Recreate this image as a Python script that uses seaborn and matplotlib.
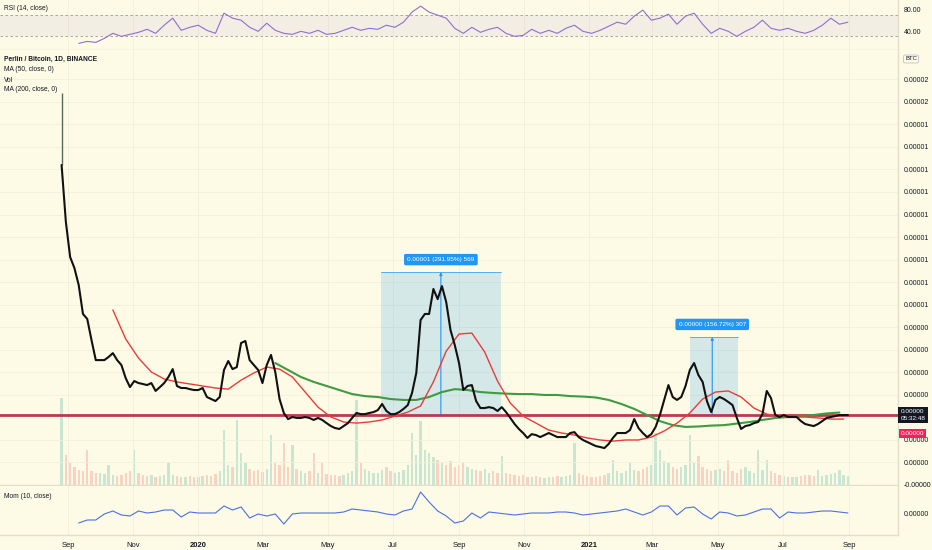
import numpy as np
import pandas as pd
import matplotlib
matplotlib.use('Agg')
import matplotlib.pyplot as plt
import matplotlib.dates as mdates
from matplotlib.patches import Rectangle
import seaborn as sns

# price in units of 1e-6 BTC, one close every 4 days from 2019-08-26
close_start = '2019-08-26'
close = [13.2, 10.67, 9.11, 8.62, 7.87, 6.58, 6.36, 5.42, 4.53, 4.53,
         4.53, 4.67, 4.84, 4.53, 4.31, 3.73, 3.33, 3.6, 3.51, 3.47,
         3.42, 3.51, 3.16, 3.33, 3.51, 3.78, 4.13, 3.38, 3.29, 3.29,
         3.24, 3.2, 3.2, 3.29, 2.89, 2.8, 2.71, 2.89, 4.09, 4.49,
         4.13, 4.22, 5.29, 5.38, 4.53, 4.31, 4.09, 3.51, 4.31, 4.76,
         4.0, 2.8, 2.18, 1.91, 2.0, 1.96, 1.96, 2.0, 1.96, 1.87,
         1.96, 1.87, 1.73, 1.6, 1.51, 1.47, 1.6, 1.73, 1.96, 2.18,
         2.13, 2.13, 2.18, 2.22, 2.31, 2.58, 2.27, 2.13, 2.13, 2.22,
         2.36, 2.53, 3.07, 3.96, 6.31, 6.58, 6.58, 7.69, 7.24, 7.82,
         7.11, 5.87, 5.2, 4.4, 3.2, 3.38, 3.42, 2.71, 2.4, 2.4,
         2.44, 2.4, 2.27, 2.44, 2.22, 1.96, 1.69, 1.47, 1.29, 1.07,
         1.24, 1.2, 1.11, 1.2, 1.29, 1.2, 1.11, 1.11, 1.11, 1.29,
         1.33, 1.11, 0.98, 0.89, 0.8, 0.71, 0.67, 0.62, 0.8, 1.07,
         1.29, 1.29, 1.29, 1.42, 1.91, 1.51, 1.29, 1.11, 1.24, 1.56,
         2.09, 2.76, 3.42, 2.89, 2.76, 2.89, 3.38, 4.09, 4.4, 3.87,
         3.56, 2.71, 2.22, 2.76, 2.89, 2.8, 2.67, 2.53, 1.96, 1.47,
         1.6, 1.64, 1.73, 1.78, 2.13, 3.16, 2.84, 2.09, 2.0, 2.09,
         2.0, 2.0, 2.0, 1.82, 1.69, 1.64, 1.6, 1.69, 1.82, 1.96,
         2.0, 2.04, 2.09, 2.09, 2.09]
first_high = 16.4

# volume, same dates as close
vol = [87, 30, 22, 18, 15, 14, 35, 14, 12, 12,
       11, 20, 10, 9, 10, 12, 14, 35, 12, 10,
       9, 10, 8, 9, 10, 22, 10, 9, 8, 8,
       9, 8, 8, 9, 10, 9, 11, 14, 55, 20,
       18, 65, 32, 22, 16, 14, 15, 13, 16, 50,
       22, 20, 42, 18, 40, 16, 14, 12, 14, 32,
       12, 22, 11, 10, 10, 9, 10, 12, 14, 85,
       22, 16, 14, 12, 12, 15, 18, 14, 12, 13,
       15, 20, 52, 30, 64, 35, 32, 28, 25, 22,
       20, 24, 18, 20, 22, 18, 16, 15, 14, 16,
       12, 14, 12, 29, 12, 11, 10, 9, 10, 8,
       8, 9, 8, 7, 8, 8, 9, 8, 9, 10,
       42, 12, 10, 9, 8, 8, 9, 10, 12, 25,
       14, 12, 14, 22, 15, 14, 16, 18, 20, 52,
       35, 24, 22, 18, 16, 18, 20, 50, 22, 29,
       18, 16, 14, 15, 16, 14, 25, 14, 12, 16,
       18, 14, 12, 35, 15, 25, 14, 12, 10, 9,
       8, 8, 8, 9, 10, 10, 9, 15, 9, 10,
       11, 12, 15, 10, 9]

# moving averages, one value every 12 days
ma50_start = '2019-10-13'
ma50 = [6.76, 5.47, 4.62, 4.0, 3.69, 3.56, 3.47, 3.38, 3.29, 3.24,
        3.64, 3.96, 4.22, 4.13, 3.78, 3.11, 2.44, 2.0, 1.78, 1.73,
        1.78, 1.87, 2.04, 2.22, 2.49, 3.56, 4.93, 5.69, 5.73, 4.89,
        3.6, 2.62, 2.04, 1.73, 1.42, 1.29, 1.2, 1.07, 0.98, 0.93,
        0.98, 0.98, 1.11, 1.38, 1.73, 2.18, 2.8, 3.11, 3.16, 2.89,
        2.4, 2.13, 2.04, 2.0, 2.0, 1.96, 1.91, 1.91]
ma200_start = '2020-03-13'
ma200 = [4.4, 4.09, 3.78, 3.56, 3.38, 3.2, 3.02, 2.93, 2.89, 2.8,
         2.76, 2.76, 2.89, 3.11, 3.24, 3.2, 3.11, 3.07, 3.04, 3.02,
         3.02, 2.98, 2.98, 2.93, 2.91, 2.87, 2.76, 2.58, 2.36, 2.09,
         1.82, 1.64, 1.56, 1.58, 1.62, 1.64, 1.71, 1.78, 1.87, 1.96,
         2.0, 2.04, 2.09, 2.16, 2.2]

# indicators, one value every 8 days
ind_start = '2019-09-11'
rsi = [16.7, 20.5, 18.6, 26.2, 35.7, 30, 33.8, 37.6, 43.3, 35.7,
       51, 64.3, 41.4, 47.1, 51, 41.4, 35.7, 73.8, 64.3, 60.5,
       47.1, 39.5, 54.8, 41.4, 35.7, 33.8, 39.5, 35.7, 41.4, 33.8,
       35.7, 41.4, 47.1, 41.4, 45.2, 43.3, 51, 47.1, 56.7, 75.7,
       87.1, 75.7, 70, 64.3, 45.2, 35.7, 47.1, 37.6, 43.3, 47.1,
       35.7, 30, 31.9, 43.3, 35.7, 41.4, 35.7, 45.2, 51, 39.5,
       35.7, 41.4, 49, 56.7, 52.9, 68.1, 79.5, 60.5, 64.3, 71.9,
       52.9, 68.1, 73.8, 52.9, 35.7, 45.2, 39.5, 30, 39.5, 47.1,
       60.5, 45.2, 41.4, 45.2, 39.5, 35.7, 41.4, 51, 64.3, 52.9,
       56.7]
mom = [-2.0, -1.4, -1.4, -0.2, 0.4, -0.4, -0.6, 0.4, 0, 0.2,
       0.6, 0.6, -0.8, 0.2, 0, 0, 0, 1.4, 0.6, 1.2,
       -1.0, -0.2, -0.6, -0.2, -2.2, -0.2, 0, 0, 0, 0,
       0, 0.2, 0.8, 0.6, 0.4, 0.2, -0.2, -0.4, 0.4, 0.8,
       4.2, 2.2, 0.4, -0.6, -2.0, -1.6, 0, -1.0, 0.2, 0,
       -0.2, -0.4, -0.2, 0, 0, 0, 0.2, 0.2, 0, -0.4,
       -0.2, 0, 0.2, 0.4, 0.8, 0.2, -0.4, 0.2, 1.4, 1.4,
       -0.4, 1.0, 1.2, -0.2, -1.2, 0.2, 0, -0.6, -0.4, 0.2,
       0.8, 0.8, -1.0, 0.2, 0, 0, 0.2, 0.4, 0.4, 0.2,
       0]

support = 2.07

# price range measurements
measure_start = ['2020-06-20', '2021-04-05']
measure_end = ['2020-10-10', '2021-05-20']
measure_mid = ['2020-08-15', '2021-04-26']
measure_low = [2.04, 2.09]
measure_high = [8.44, 5.56]
measure_text = ['0.00001 (291.95%) 569', '0.00000 (156.72%) 307']

month_ticks = pd.date_range('2019-09-01', '2021-09-01', freq='2MS')
month_labels = ['Sep', 'Nov', '2020', 'Mar', 'May', 'Jul', 'Sep', 'Nov', '2021', 'Mar', 'May', 'Jul', 'Sep']
# tick under the last-price box and the one under the BTC badge are left out
price_ticks = [-1, 0, 1] + list(range(3, 18))
price_labels = ['-0.00000'] + ['0.00000'] * 6 + ['0.00001'] * 9 + ['0.00002'] * 2

bg = '#fdfbe6'
grid_c = '#f3f0da'
sep_c = '#e2dec9'
text_c = '#131722'
blue = '#2196f3'

sns.set_style('white')
plt.rcParams['font.family'] = ['Liberation Sans Narrow', 'Liberation Sans', 'DejaVu Sans']

W, H = 932, 550
fig = plt.figure(figsize=(W / 100, H / 100), dpi=100, facecolor=bg)


def box(x0, y0, x1, y1):
    return [x0 / W, 1 - y1 / H, (x1 - x0) / W, (y1 - y0) / H]


ax_rsi = fig.add_axes(box(0, 0, 898, 49.5))
ax_vol = fig.add_axes(box(0, 50, 898, 485), sharex=ax_rsi)
ax = fig.add_axes(box(0, 50, 898, 485), sharex=ax_rsi)
ax_mom = fig.add_axes(box(0, 486, 898, 535), sharex=ax_rsi)

d_close = pd.date_range(close_start, periods=len(close), freq='4D')
d_ma50 = pd.date_range(ma50_start, periods=len(ma50), freq='12D')
d_ma200 = pd.date_range(ma200_start, periods=len(ma200), freq='12D')
d_ind = pd.date_range(ind_start, periods=len(rsi), freq='8D')

# volume (behind the price)
ax_vol.set_facecolor(bg)
up = np.r_[True, np.diff(close) >= 0]
vcol = np.where(up, '#26a69a', '#ef5350')
ax_vol.bar(d_close, vol, width=2.2, color=vcol, alpha=0.24, linewidth=0)
ax_vol.set_ylim(0, 435)
ax_vol.set_yticks([])
ax_vol.tick_params(labelbottom=False, length=0)
for s in ax_vol.spines.values():
    s.set_visible(False)

# main price panel
ax.patch.set_visible(False)
for s0, s1, lo, hi in zip(measure_start, measure_end, measure_low, measure_high):
    x0 = mdates.date2num(pd.Timestamp(s0))
    x1 = mdates.date2num(pd.Timestamp(s1))
    ax.add_patch(Rectangle((x0, lo), x1 - x0, hi - lo, facecolor=blue, alpha=0.18,
                           edgecolor='none', zorder=1))
    ax.plot([x0, x1], [hi, hi], color=blue, lw=0.7, alpha=0.7, zorder=1)
for mid, lo, hi, txt in zip(measure_mid, measure_low, measure_high, measure_text):
    xm = mdates.date2num(pd.Timestamp(mid))
    ax.annotate('', xy=(xm, hi), xytext=(xm, lo),
                arrowprops=dict(arrowstyle='-|>', color=blue, lw=0.8, mutation_scale=4,
                                shrinkA=0, shrinkB=0), zorder=2)
    ax.annotate(txt, xy=(xm, hi), xytext=(0, 9), textcoords='offset points',
                ha='center', va='center', fontsize=4.6, color='white', zorder=5,
                bbox=dict(boxstyle='round,pad=0.5,rounding_size=0.25', fc=blue, ec='none'))

ax.axhline(support, color='#b83a52', lw=2, zorder=3)
sns.lineplot(x=d_ma200, y=ma200, ax=ax, color='#3f9b3f', linewidth=1.5, zorder=3)
sns.lineplot(x=d_ma50, y=ma50, ax=ax, color='#ec3b3b', linewidth=1.0, zorder=3)
ax.vlines(d_close[0], close[0], first_high, color='#5c6b5c', lw=1, zorder=4)
sns.lineplot(x=d_close, y=close, ax=ax, color='#111111', linewidth=1.5, zorder=4)

ax.set_ylim(-1.02, 18.31)
ax.yaxis.tick_right()
ax.set_yticks(price_ticks)
ax.set_yticklabels(price_labels)
ax.tick_params(axis='y', length=0, pad=4, labelsize=5, labelcolor=text_c)
ax.tick_params(axis='x', length=0, labelbottom=False)
ax.grid(True, color=grid_c, lw=0.6)
ax.set_xlabel('')
ax.set_ylabel('')

ax.text(1.003, close[-1], '0.00000\n05:32:48', transform=ax.get_yaxis_transform(),
        ha='left', va='center', color='white', fontsize=4.6, linespacing=1.35, clip_on=False,
        bbox=dict(boxstyle='square,pad=0.35', fc='#131722', ec='none'), zorder=6)
ax.text(1.003, 0.118, '0.00000', transform=ax.transAxes, ha='left', va='center',
        color='white', fontsize=4.6, clip_on=False,
        bbox=dict(boxstyle='square,pad=0.3', fc='#f5215b', ec='none'), zorder=6)

# RSI panel
ax_rsi.set_facecolor(bg)
ax_rsi.axhspan(30, 70, color='#7e57c2', alpha=0.08, lw=0)
ax_rsi.axhline(70, color='#9a9a9a', lw=0.6, ls=(0, (3, 3)))
ax_rsi.axhline(30, color='#9a9a9a', lw=0.6, ls=(0, (3, 3)))
sns.lineplot(x=d_ind, y=rsi, ax=ax_rsi, color='#8e6fd0', linewidth=0.8)
ax_rsi.set_ylim(5.2, 98.6)
ax_rsi.yaxis.tick_right()
ax_rsi.set_yticks([80, 40])
ax_rsi.set_yticklabels(['80.00', '40.00'])
ax_rsi.tick_params(axis='y', length=0, pad=4, labelsize=5, labelcolor=text_c)
ax_rsi.tick_params(axis='x', length=0, labelbottom=False)
ax_rsi.grid(True, axis='x', color=grid_c, lw=0.6)
ax_rsi.set_xlabel('')
ax_rsi.set_ylabel('')

# Momentum panel
ax_mom.set_facecolor(bg)
sns.lineplot(x=d_ind, y=mom, ax=ax_mom, color='#4c6fe3', linewidth=0.8)
ax_mom.set_ylim(-4.4, 5.4)
ax_mom.yaxis.tick_right()
ax_mom.set_yticks([0])
ax_mom.set_yticklabels(['0.00000'])
ax_mom.tick_params(axis='y', length=0, pad=4, labelsize=5, labelcolor=text_c)
ax_mom.grid(True, axis='x', color=grid_c, lw=0.6)
ax_mom.set_xlabel('')
ax_mom.set_ylabel('')

sep1 = mdates.date2num(pd.Timestamp('2019-09-01'))
ppd = 781 / 731
ax_mom.set_xlim(sep1 - 68 / ppd, sep1 + 830 / ppd)
ax_mom.set_xticks(month_ticks)
ax_mom.set_xticklabels(month_labels)
ax_mom.tick_params(axis='x', length=0, pad=5, labelsize=5.5, labelcolor=text_c)
for lab in ax_mom.get_xticklabels():
    if lab.get_text().isdigit():
        lab.set_fontweight('bold')

for a in (ax_rsi, ax, ax_mom):
    for side in ('top', 'left'):
        a.spines[side].set_visible(False)
    a.spines['right'].set_color(sep_c)
    a.spines['right'].set_linewidth(1)
    a.spines['bottom'].set_color(sep_c)
    a.spines['bottom'].set_linewidth(1)

# legends top-left
fs = 4.8
fig.text(4 / W, 1 - 9 / H, 'RSI (14, close)', fontsize=fs, color=text_c, va='center')
fig.text(4 / W, 1 - 59 / H, 'Perlin / Bitcoin, 1D, BINANCE', fontsize=fs, color=text_c,
         va='center', fontweight='bold')
fig.text(4 / W, 1 - 70 / H, 'MA (50, close, 0)', fontsize=fs, color=text_c, va='center')
fig.text(4 / W, 1 - 80 / H, 'Vol', fontsize=fs, color=text_c, va='center')
fig.text(4 / W, 1 - 90 / H, 'MA (200, close, 0)', fontsize=fs, color=text_c, va='center')
fig.text(4 / W, 1 - 496 / H, 'Mom (10, close)', fontsize=fs, color=text_c, va='center')
fig.text(911 / W, 1 - 59 / H, 'BTC', fontsize=4.3, color=text_c, ha='center', va='center',
         bbox=dict(boxstyle='round,pad=0.25', fc=bg, ec='#b2b5be', lw=0.5))

fig.savefig('out.png', dpi=100, facecolor=bg)
